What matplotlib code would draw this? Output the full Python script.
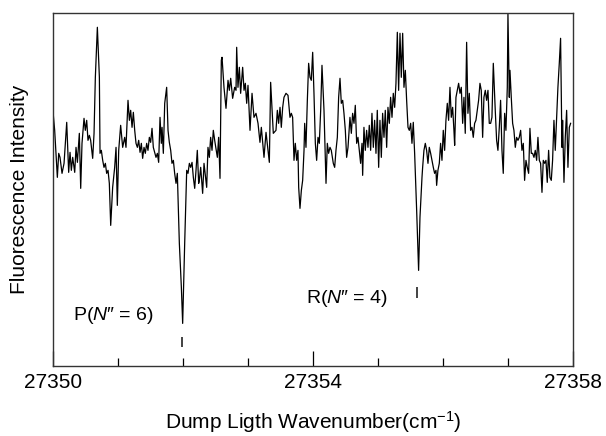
import numpy as np
import matplotlib
matplotlib.use("Agg")
import matplotlib.pyplot as plt
from matplotlib.ticker import FormatStrFormatter

plt.rcParams["font.family"] = ["Liberation Sans", "DejaVu Sans"]
plt.rcParams["mathtext.fontset"] = "custom"
plt.rcParams["mathtext.rm"] = "Liberation Sans"
plt.rcParams["mathtext.it"] = "Liberation Sans:italic"

# ── dane (offset od 27350 cm^-1, intensywność w j.u.) ──
WN_START = 27350.0

wn_offset = [
    0.000, 0.030, 0.071, 0.092, 0.112, 0.143, 0.174, 0.215, 0.245, 0.266,
    0.286, 0.307, 0.338, 0.358, 0.379, 0.409, 0.430, 0.450, 0.481, 0.501,
    0.522, 0.542, 0.563, 0.583, 0.614, 0.635, 0.655, 0.686, 0.717, 0.727,
    0.747, 0.768, 0.788, 0.809, 0.829, 0.850, 0.870, 0.891, 0.921, 0.952,
    0.973, 0.993, 1.014, 1.044, 1.075, 1.106,
    1.126, 1.157, 1.178, 1.198, 1.219, 1.239, 1.260, 1.280, 1.301, 1.321,
    1.342, 1.362, 1.382, 1.403, 1.423, 1.444, 1.464, 1.485, 1.505, 1.526,
    1.546, 1.567, 1.587, 1.608, 1.628, 1.649, 1.669, 1.680, 1.700, 1.721,
    1.751, 1.772, 1.792, 1.813, 1.833, 1.854, 1.874, 1.895, 1.915, 1.946,
    1.977, 1.997, 2.028, 2.059, 2.079, 2.100, 2.120, 2.141, 2.161, 2.182,
    2.202, 2.222, 2.243,
    2.253, 2.274, 2.304, 2.325, 2.366, 2.386, 2.407, 2.427, 2.448, 2.468,
    2.489, 2.530, 2.550, 2.571, 2.591, 2.602, 2.632, 2.663, 2.694, 2.714,
    2.735, 2.765, 2.796, 2.817, 2.827, 2.847, 2.868, 2.888, 2.919, 2.940,
    2.960, 2.981, 3.001, 3.032, 3.063, 3.093, 3.124, 3.155, 3.185, 3.206,
    3.247, 3.278, 3.329, 3.349, 3.390,
    3.431, 3.452, 3.472, 3.493, 3.513, 3.534, 3.554, 3.585, 3.616, 3.646,
    3.667, 3.687, 3.708, 3.728, 3.749, 3.769, 3.780, 3.800, 3.821, 3.841,
    3.862, 3.872, 3.892, 3.913, 3.933, 3.954, 3.974, 3.995, 4.015, 4.036,
    4.056, 4.077, 4.097, 4.118, 4.138, 4.169, 4.200, 4.220, 4.240, 4.261,
    4.281, 4.312, 4.333, 4.353, 4.374, 4.394, 4.415, 4.435, 4.456, 4.476,
    4.497, 4.517, 4.538,
    4.568, 4.589, 4.609, 4.630, 4.650, 4.671, 4.691, 4.712, 4.732, 4.753,
    4.763, 4.783, 4.804, 4.824, 4.845, 4.865, 4.886, 4.906, 4.927, 4.947,
    4.968, 4.988, 5.009, 5.029, 5.050, 5.070, 5.091, 5.111, 5.132, 5.152,
    5.173, 5.193, 5.214, 5.234, 5.255, 5.275, 5.296, 5.316, 5.337, 5.357,
    5.378, 5.398, 5.419, 5.439, 5.460, 5.480, 5.501, 5.521, 5.541, 5.562,
    5.593, 5.623, 5.644, 5.675,
    5.685, 5.705, 5.726, 5.746, 5.767, 5.787, 5.808, 5.828, 5.849, 5.869,
    5.890, 5.900, 5.920, 5.941, 5.961, 5.982, 6.002, 6.023, 6.043, 6.064,
    6.084, 6.105, 6.125, 6.146, 6.166, 6.177, 6.197, 6.218, 6.238, 6.259,
    6.279, 6.300, 6.320, 6.340, 6.361, 6.381, 6.402, 6.422, 6.443, 6.463,
    6.484, 6.504, 6.525, 6.545, 6.566, 6.586, 6.607, 6.627, 6.648, 6.668,
    6.689, 6.709, 6.730, 6.750, 6.771,
    6.801, 6.822, 6.842, 6.863, 6.883, 6.904, 6.924, 6.945, 6.965, 6.986,
    6.996, 7.017, 7.027, 7.047, 7.068, 7.088, 7.109, 7.129, 7.150, 7.170,
    7.191, 7.211, 7.232, 7.252, 7.273, 7.293, 7.314, 7.334, 7.355, 7.375,
    7.396, 7.416, 7.437, 7.457, 7.478, 7.498, 7.519, 7.539, 7.560, 7.580,
    7.600, 7.621, 7.641, 7.662, 7.682, 7.703, 7.723, 7.744, 7.764, 7.785,
    7.805, 7.826, 7.836, 7.857, 7.877, 7.898, 7.918, 7.939, 7.959,
]

intensity = [
    258, 236, 189, 213, 209, 193, 203, 244, 194, 214,
    196, 209, 194, 219, 204, 233, 178, 223, 248, 236,
    246, 226, 231, 226, 208, 233, 289, 339, 289, 213,
    216, 206, 199, 203, 193, 196, 183, 141, 179, 199,
    219, 161, 216, 241, 219, 229,
    219, 266, 246, 256, 239, 254, 236, 223, 219, 226,
    214, 223, 208, 219, 213, 223, 216, 229, 224, 238,
    219, 214, 209, 213, 204, 249, 223, 239, 213, 263,
    279, 236, 224, 216, 203, 206, 193, 183, 193, 123,
    79, 43, 123, 196, 193, 203, 199, 204, 189, 178,
    196, 216, 183,
    186, 199, 173, 203, 179, 219, 209, 229, 216, 236,
    226, 209, 229, 188, 306, 309, 279, 258, 286, 276,
    288, 268, 279, 276, 319, 279, 299, 273, 299, 276,
    283, 263, 281, 236, 273, 249, 253, 243, 224, 239,
    209, 234, 204, 284, 233,
    236, 256, 243, 259, 239, 259, 269, 273, 271, 249,
    253, 249, 206, 223, 206, 216, 179, 158, 176, 186,
    216, 243, 219, 266, 303, 289, 286, 314, 273, 223,
    206, 229, 223, 256, 301, 256, 183, 223, 213, 219,
    216, 203, 199, 216, 229, 269, 288, 263, 266, 253,
    236, 209, 219,
    249, 233, 253, 243, 261, 223, 229, 216, 203, 223,
    191, 239, 216, 236, 219, 241, 216, 253, 219, 246,
    213, 256, 199, 246, 209, 253, 229, 256, 219, 259,
    243, 269, 249, 273, 259, 283, 334, 276, 333, 289,
    333, 279, 296, 266, 239, 236, 243, 223, 244, 213,
    156, 96, 149, 189,
    199, 216, 223, 216, 203, 219, 213, 206, 199, 193,
    196, 181, 196, 203, 223, 206, 236, 216, 246, 263,
    246, 279, 249, 259, 236, 221, 269, 276, 283, 273,
    279, 243, 269, 233, 324, 253, 273, 236, 239, 229,
    243, 246, 256, 266, 283, 276, 229, 269, 276, 266,
    276, 243, 243, 249, 303,
    256, 226, 216, 239, 266, 216, 193, 253, 236, 279,
    353, 269, 296, 269, 243, 236, 219, 229, 226, 229,
    236, 216, 223, 186, 206, 199, 193, 238, 213, 213,
    209, 216, 206, 229, 206, 203, 174, 206, 203, 206,
    184, 216, 189, 186, 206, 246, 216, 249, 279, 303,
    328, 219, 246, 184, 229, 256, 199, 239, 243,
]

# przypisania linii: pozycja znacznika, zakres znacznika, etykieta i jej położenie
line_pos = [27351.985, 27355.605]
line_mark_lo = [19, 68]
line_mark_hi = [29, 79]
line_labels = [r"P($\mathit{N}$″ = 6)", r"R($\mathit{N}$″ = 4)"]
label_x = [27350.31, 27353.89]
label_y = [51, 68]

x_major = [27350, 27354, 27358]

wn = WN_START + np.array(wn_offset)
inten = np.array(intensity)

fig = plt.figure(figsize=(6.06, 4.36), dpi=100)
ax = fig.add_axes([0.087, 0.1596, 0.859, 0.8099])

ax.plot(wn, inten, color="black", lw=0.9)
for xp, lo, hi in zip(line_pos, line_mark_lo, line_mark_hi):
    ax.plot([xp, xp], [lo, hi], color="#222222", lw=1.2,
            solid_capstyle="butt")
for lab, lx, ly in zip(line_labels, label_x, label_y):
    ax.text(lx, ly, lab, fontsize=14, ha="left", va="center")

ax.set_xlim(27350, 27358)
ax.set_ylim(0, 353)
ax.set_xticks(x_major)
ax.set_xticks(np.arange(27350, 27359, 1), minor=True)
ax.xaxis.set_major_formatter(FormatStrFormatter("%d"))
ax.set_yticks([])
ax.tick_params(axis="x", which="major", direction="in", length=10.5,
               width=0.9, labelsize=15, pad=5)
ax.tick_params(axis="x", which="minor", direction="in", length=5.5, width=0.9)

for sp in ax.spines.values():
    sp.set_linewidth(1.0)
    sp.set_color("#333333")

ax.set_xlabel("Dump Ligth Wavenumber(cm$^{-1}$)", fontsize=15, labelpad=12)
ax.set_ylabel("Fluorescence Intensity", fontsize=15, labelpad=17)

plt.savefig("out.png", dpi=100)
